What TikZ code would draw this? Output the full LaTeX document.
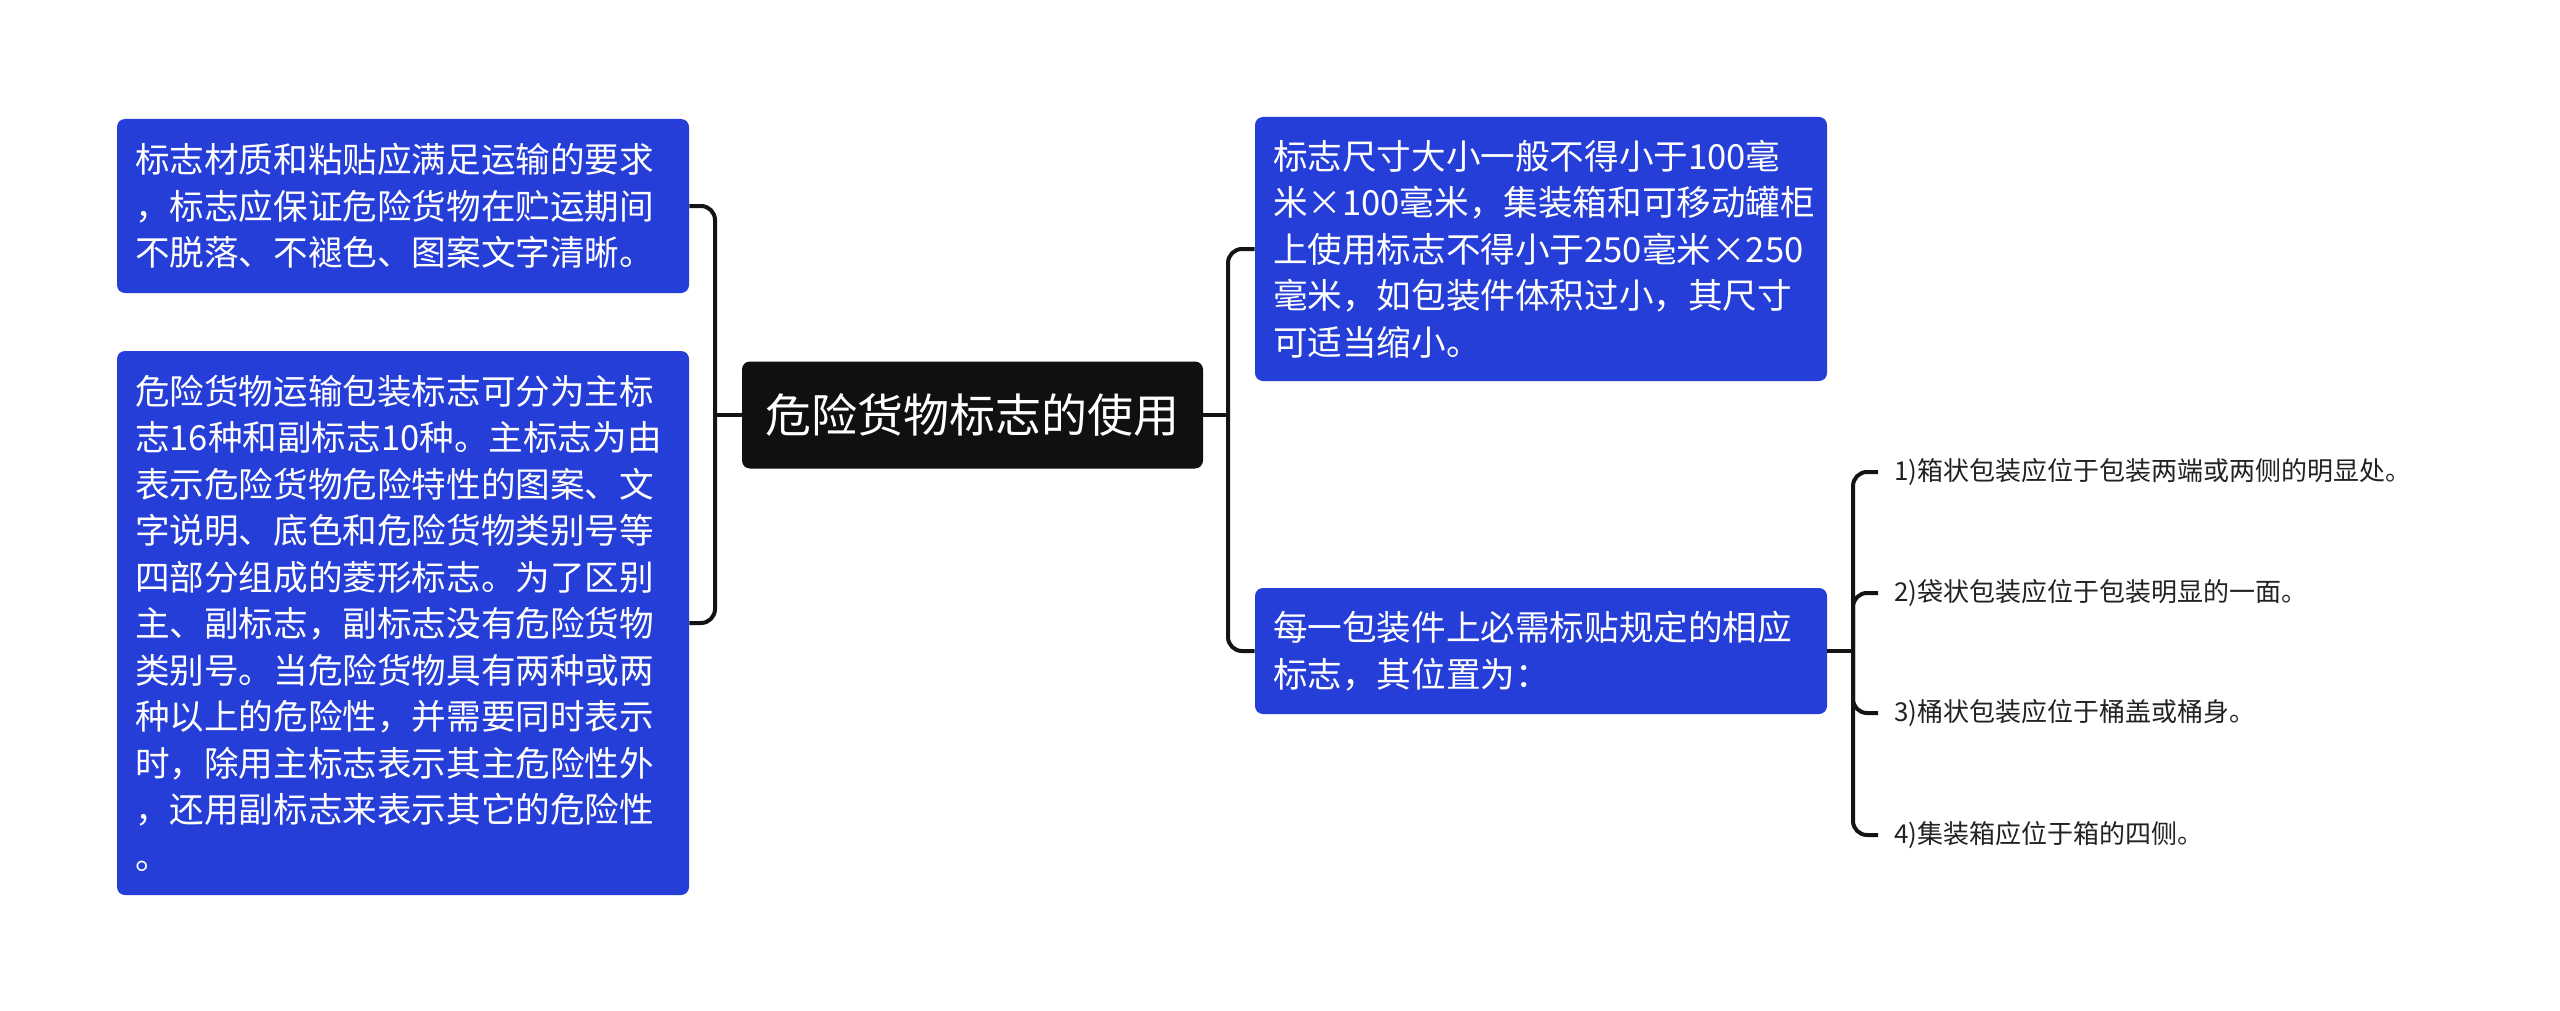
\documentclass[tikz,border=0pt]{standalone}
\usepackage{fontspec}
\setmainfont{Noto Sans CJK SC}
\usepackage{tikz}
\definecolor{noteblue}{RGB}{38,62,216}
\definecolor{topicblack}{RGB}{16,16,16}
\definecolor{linkblack}{RGB}{20,20,20}
\definecolor{leafgray}{RGB}{34,34,34}

\begin{document}
\begin{tikzpicture}[x=0.5pt, y=-0.5pt,
    topic/.style={rectangle, rounded corners=4pt, fill=topicblack, text=white, font=\fontsize{23}{28}\selectfont, minimum width=230.5pt, minimum height=53.5pt},
    note/.style={rectangle, rounded corners=4pt, fill=noteblue, text=white, font=\fontsize{17.3}{23.25}\selectfont, text width=268pt, align=left, inner xsep=9pt, inner ysep=2pt},
    leaf/.style={anchor=west, text=leafgray, font=\fontsize{13}{16}\selectfont, inner xsep=8pt, inner ysep=0pt},
    link/.style={draw=linkblack, line width=2pt, rounded corners=7pt}]
    \fill[white] (0,0) rectangle (2560,1011);

    % Nodes
    \node (root) [topic] at (972.5,415) {危险货物标志的使用};
    \node (material) [note, minimum height=87pt] at (403,206) {标志材质和粘贴应满足运输的要求\\，标志应保证危险货物在贮运期间\\不脱落、不褪色、图案文字清晰。};
    \node (category) [note, minimum height=272pt] at (403,623) {危险货物运输包装标志可分为主标\\志16种和副标志10种。主标志为由\\表示危险货物危险特性的图案、文\\字说明、底色和危险货物类别号等\\四部分组成的菱形标志。为了区别\\主、副标志，副标志没有危险货物\\类别号。当危险货物具有两种或两\\种以上的危险性，并需要同时表示\\时，除用主标志表示其主危险性外\\，还用副标志来表示其它的危险性\\。};
    \node (size) [note, minimum height=132pt] at (1541,249) {标志尺寸大小一般不得小于100毫\\米×100毫米，集装箱和可移动罐柜\\上使用标志不得小于250毫米×250\\毫米，如包装件体积过小，其尺寸\\可适当缩小。};
    \node (position) [note, minimum height=63pt] at (1541,651) {每一包装件上必需标贴规定的相应\\标志，其位置为：};
    \node (boxpos) [leaf] at (1878,472) {1)箱状包装应位于包装两端或两侧的明显处。};
    \node (bagpos) [leaf] at (1878,593) {2)袋状包装应位于包装明显的一面。};
    \node (drumpos) [leaf] at (1878,713) {3)桶状包装应位于桶盖或桶身。};
    \node (contpos) [leaf] at (1878,835) {4)集装箱应位于箱的四侧。};

    % Forks
    \coordinate (lfork) at (715,415);
    \coordinate (rfork) at (1228,415);
    \coordinate (pfork) at (1853,651);

    % Connectors
    \draw[link] (root.west) -- (lfork);
    \draw[link] (material.east) -| (lfork);
    \draw[link] (category.east) -| (lfork);
    \draw[link] (root.east) -- (rfork);
    \draw[link] (rfork) |- (size.west);
    \draw[link] (rfork) |- (position.west);
    \draw[link] (position.east) -- (pfork);
    \draw[link] (pfork) |- (boxpos.west);
    \draw[link] (pfork) |- (bagpos.west);
    \draw[link] (pfork) |- (drumpos.west);
    \draw[link] (pfork) |- (contpos.west);
\end{tikzpicture}
\end{document}
